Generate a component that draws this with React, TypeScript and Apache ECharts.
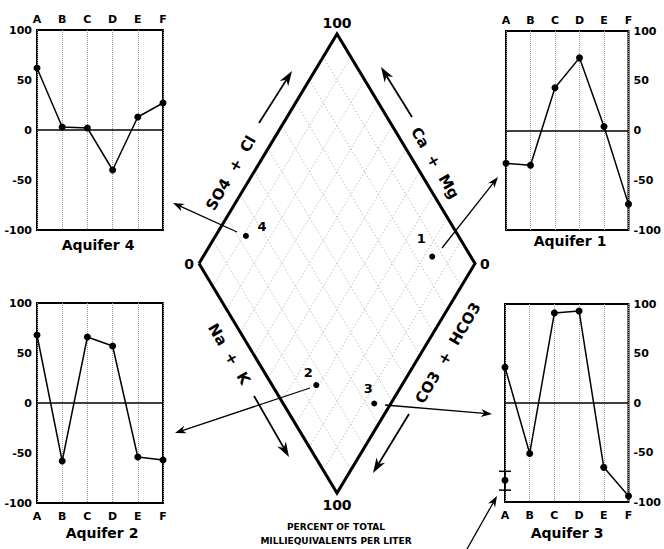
import { useEffect, useRef } from "react";
import * as echarts from "echarts";

// Ion-balance profiles for each aquifer (percent deviation, categories A–F)
const categories = ["A", "B", "C", "D", "E", "F"];
const aquifer1 = [-33, -35, 43, 73, 4, -74];
const aquifer2 = [68, -58, 66, 57, -54, -57];
const aquifer3 = [36, -51, 91, 93, -65, -94];
const aquifer4 = [62, 3, 2, -40, 13, 27];
// Extra reading at A in aquifer 3: value with its high/low range
const aquifer3Range = ["A", -78, -69, -88];

const yMin = -100;
const yMax = 100;
const yInterval = 50;

// Diamond samples: percent of total milliequivalents per liter
const sampleIds = ["1", "2", "3", "4"];
const sampleSo4Cl = [86, 16, 33, 23];
const sampleNaK = [83, 69, 94, 11];
const diamondGridPercents = [10, 20, 30, 40, 50, 60, 70, 80, 90];

const FONT = "DejaVu Sans";

// Position inside the diamond from (SO4+Cl %, Na+K %)
const toDiamond = (so4cl: number, nak: number) => [so4cl + nak, so4cl - nak];

type Panel = {
  title: string;
  data: number[];
  grid: { left: number; top: number; width: number; height: number };
  xPos: "top" | "bottom";
  yPos: "left" | "right";
  titleAt: [number, number];
};

const panels: Panel[] = [
  { title: "Aquifer 4", data: aquifer4, grid: { left: 37, top: 30, width: 126, height: 200 }, xPos: "top", yPos: "left", titleAt: [98, 245] },
  { title: "Aquifer 1", data: aquifer1, grid: { left: 506, top: 31, width: 127, height: 199 }, xPos: "top", yPos: "right", titleAt: [570, 241] },
  { title: "Aquifer 2", data: aquifer2, grid: { left: 37, top: 303, width: 126, height: 200 }, xPos: "bottom", yPos: "left", titleAt: [102, 533] },
  { title: "Aquifer 3", data: aquifer3, grid: { left: 505, top: 304, width: 128, height: 198 }, xPos: "bottom", yPos: "right", titleAt: [567, 533] },
];

// Label offsets for the numbered samples
const sampleLabelOffsets: Record<string, [number, number]> = {
  "1": [-11, -18],
  "2": [-8, -13],
  "3": [-6, -15],
  "4": [16, -9],
};

// Annotation arrows: [fromX, fromY, toX, toY, width, headLength, headHalfWidth]
const arrows: number[][] = [
  [259, 123, 292, 71, 1.8, 15, 5],
  [412, 117, 381, 67, 1.8, 15, 5],
  [254, 396, 289, 457, 1.8, 15, 5],
  [409, 414, 373, 473, 1.8, 15, 5],
  [237, 232, 173, 203, 1.3, 11, 4],
  [442, 248, 498, 177, 1.3, 11, 4],
  [310, 388, 175, 433, 1.3, 11, 4],
  [385, 405, 492, 414, 1.3, 11, 4],
  [467, 549, 497, 496, 1.3, 11, 4],
];

// Axis captions along the diamond edges: [text, cx, cy, rotationDeg]
const edgeCaptions: [string, number, number, number][] = [
  ["SO4  +  Cl", 231, 173, 59.7],
  ["Ca  +  Mg", 435, 163, -59.7],
  ["Na  +  K", 229, 354, -59.7],
  ["CO3  +  HCO3", 448, 353, 59.7],
];

function arrowGraphics(a: number[]) {
  const [x1, y1, x2, y2, w, len, hw] = a;
  const dx = x2 - x1;
  const dy = y2 - y1;
  const d = Math.hypot(dx, dy);
  const ux = dx / d;
  const uy = dy / d;
  const px = -uy;
  const py = ux;
  const notch = len * 0.3;
  const bx = x2 - ux * len;
  const by = y2 - uy * len;
  const nx = x2 - ux * (len - notch);
  const ny = y2 - uy * (len - notch);
  return [
    {
      type: "line",
      shape: { x1, y1, x2: nx, y2: ny },
      style: { stroke: "#000", lineWidth: w },
      silent: true,
    },
    {
      type: "polygon",
      shape: {
        points: [
          [x2, y2],
          [bx + px * hw, by + py * hw],
          [nx, ny],
          [bx - px * hw, by - py * hw],
        ],
      },
      style: { fill: "#000" },
      silent: true,
    },
  ];
}

export default function App() {
  const ref = useRef<HTMLDivElement>(null);

  useEffect(() => {
    if (!ref.current) return;
    const chart = echarts.init(ref.current, undefined, { renderer: "svg" });

    const grids: any[] = panels.map((p) => ({
      ...p.grid,
      show: true,
      borderColor: "#000",
      borderWidth: 2,
      backgroundColor: "transparent",
      containLabel: false,
    }));
    // diamond plotting area
    grids.push({ left: 199, top: 34, width: 276, height: 459, show: false });

    const xAxes: any[] = panels.map((p, i) => ({
      type: "category",
      gridIndex: i,
      data: categories,
      position: p.xPos,
      boundaryGap: false,
      axisLine: { show: false },
      axisTick: { show: false },
      axisLabel: {
        color: "#000",
        fontFamily: FONT,
        fontWeight: "bold",
        fontSize: 11,
        margin: p.xPos === "top" ? 5 : 8,
        interval: 0,
      },
      splitLine: { show: true, lineStyle: { color: "#9a9a9a", type: "dotted", width: 1 } },
    }));
    xAxes.push({ type: "value", gridIndex: 4, min: 0, max: 200, show: false });

    const yAxes: any[] = panels.map((p, i) => ({
      type: "value",
      gridIndex: i,
      min: yMin,
      max: yMax,
      interval: yInterval,
      position: p.yPos,
      axisLine: { show: false },
      axisTick: { show: false },
      splitLine: { show: false },
      axisLabel: {
        color: "#000",
        fontFamily: FONT,
        fontWeight: "bold",
        fontSize: 11,
        margin: 5,
      },
    }));
    yAxes.push({ type: "value", gridIndex: 4, min: -100, max: 100, show: false });

    const series: any[] = panels.map((p, i) => ({
      type: "line",
      name: p.title,
      xAxisIndex: i,
      yAxisIndex: i,
      data: p.data,
      symbol: "circle",
      symbolSize: 7,
      itemStyle: { color: "#000", opacity: 1 },
      lineStyle: { color: "#000", width: 1.5 },
      markLine: {
        silent: true,
        symbol: ["none", "none"],
        label: { show: false },
        lineStyle: { color: "#000", type: "solid", width: 1.5 },
        data: [{ yAxis: 0 }],
      },
      z: 3,
    }));

    // range marker at A for aquifer 3
    series.push({
      type: "custom",
      xAxisIndex: 3,
      yAxisIndex: 3,
      clip: false,
      encode: { x: 0, y: 1 },
      data: [aquifer3Range],
      renderItem: (_params: any, api: any) => {
        const x = api.value(0);
        const mid = api.coord([x, api.value(1)]);
        const hi = api.coord([x, api.value(2)]);
        const lo = api.coord([x, api.value(3)]);
        const w = 6;
        const st = { stroke: "#000", lineWidth: 1.5 };
        return {
          type: "group",
          children: [
            { type: "line", shape: { x1: hi[0], y1: hi[1], x2: lo[0], y2: lo[1] }, style: st },
            { type: "line", shape: { x1: hi[0] - w, y1: hi[1], x2: hi[0] + w, y2: hi[1] }, style: st },
            { type: "line", shape: { x1: lo[0] - w, y1: lo[1], x2: lo[0] + w, y2: lo[1] }, style: st },
            { type: "circle", shape: { cx: mid[0], cy: mid[1], r: 3.5 }, style: { fill: "#000" } },
          ],
        };
      },
      z: 4,
    });

    // diamond grid lines (constant SO4+Cl and constant Na+K)
    series.push({
      type: "custom",
      xAxisIndex: 4,
      yAxisIndex: 4,
      silent: true,
      clip: false,
      data: diamondGridPercents.flatMap((k) => [
        [k, 0],
        [k, 1],
      ]),
      renderItem: (_params: any, api: any) => {
        const k = api.value(0);
        const fam = api.value(1);
        const s = fam === 0 ? toDiamond(k, 0) : toDiamond(0, k);
        const e = fam === 0 ? toDiamond(k, 100) : toDiamond(100, k);
        const p1 = api.coord(s);
        const p2 = api.coord(e);
        return {
          type: "line",
          shape: { x1: p1[0], y1: p1[1], x2: p2[0], y2: p2[1] },
          style: { stroke: "#9a9a9a", lineWidth: 0.9, lineDash: [1, 2.5] },
        };
      },
      z: 1,
    });

    // diamond outline
    const L = toDiamond(0, 0);
    const T = toDiamond(100, 0);
    const R = toDiamond(100, 100);
    const B = toDiamond(0, 100);
    series.push({
      type: "line",
      xAxisIndex: 4,
      yAxisIndex: 4,
      data: [L, T, R, B, L],
      symbol: "none",
      silent: true,
      clip: false,
      lineStyle: { color: "#000", width: 3, join: "miter" },
      z: 2,
    });

    // corner scale labels
    const cornerLabel = (pos: string, dist: number) => ({
      show: true,
      position: pos,
      distance: dist,
      color: "#000",
      opacity: 1,
      fontFamily: FONT,
      fontWeight: "bold",
      fontSize: 14,
      formatter: (p: any) => p.name,
    });
    series.push({
      type: "scatter",
      xAxisIndex: 4,
      yAxisIndex: 4,
      symbolSize: 0,
      silent: true,
      clip: false,
      itemStyle: { color: "#000", opacity: 1 },
      data: [
        { name: "100", value: T, label: cornerLabel("top", 4) },
        { name: "0", value: L, label: cornerLabel("left", 5) },
        { name: "0", value: R, label: cornerLabel("right", 5) },
        { name: "100", value: B, label: cornerLabel("bottom", 5) },
      ],
      z: 5,
    });

    // numbered samples
    series.push({
      type: "scatter",
      xAxisIndex: 4,
      yAxisIndex: 4,
      symbol: "circle",
      symbolSize: 6,
      itemStyle: { color: "#000", opacity: 1 },
      data: sampleIds.map((id, i) => ({
        name: id,
        value: toDiamond(sampleSo4Cl[i], sampleNaK[i]),
        label: {
          show: true,
          position: "inside",
          offset: sampleLabelOffsets[id],
          formatter: id,
          color: "#000",
          opacity: 1,
          fontFamily: FONT,
          fontWeight: "bold",
          fontSize: 13,
        },
      })),
      z: 6,
    });

    const graphic: any[] = [];
    arrows.forEach((a) => graphic.push(...arrowGraphics(a)));
    edgeCaptions.forEach(([text, x, y, deg]) =>
      graphic.push({
        type: "text",
        x,
        y,
        rotation: (deg * Math.PI) / 180,
        silent: true,
        style: {
          text,
          textAlign: "center",
          textVerticalAlign: "middle",
          fill: "#000",
          fontFamily: FONT,
          fontWeight: "bold",
          fontSize: 15,
        },
      })
    );
    panels.forEach((p) =>
      graphic.push({
        type: "text",
        x: p.titleAt[0],
        y: p.titleAt[1],
        silent: true,
        style: {
          text: p.title,
          textAlign: "center",
          textVerticalAlign: "middle",
          fill: "#000",
          fontFamily: FONT,
          fontWeight: "bold",
          fontSize: 14,
        },
      })
    );
    graphic.push({
      type: "text",
      x: 336,
      y: 527,
      silent: true,
      style: {
        text: "PERCENT OF TOTAL",
        textAlign: "center",
        textVerticalAlign: "middle",
        fill: "#000",
        fontFamily: FONT,
        fontWeight: "bold",
        fontSize: 9,
      },
    });
    graphic.push({
      type: "text",
      x: 336,
      y: 541,
      silent: true,
      style: {
        text: "MILLIEQUIVALENTS PER LITER",
        textAlign: "center",
        textVerticalAlign: "middle",
        fill: "#000",
        fontFamily: FONT,
        fontWeight: "bold",
        fontSize: 9,
      },
    });

    chart.setOption({
      animation: false,
      backgroundColor: "#fff",
      grid: grids,
      xAxis: xAxes,
      yAxis: yAxes,
      series,
      graphic,
    });

    return () => chart.dispose();
  }, []);

  return (
    <div
      ref={ref}
      style={{ position: "absolute", left: 0, top: 0, width: 664, height: 549, background: "#fff" }}
    />
  );
}
